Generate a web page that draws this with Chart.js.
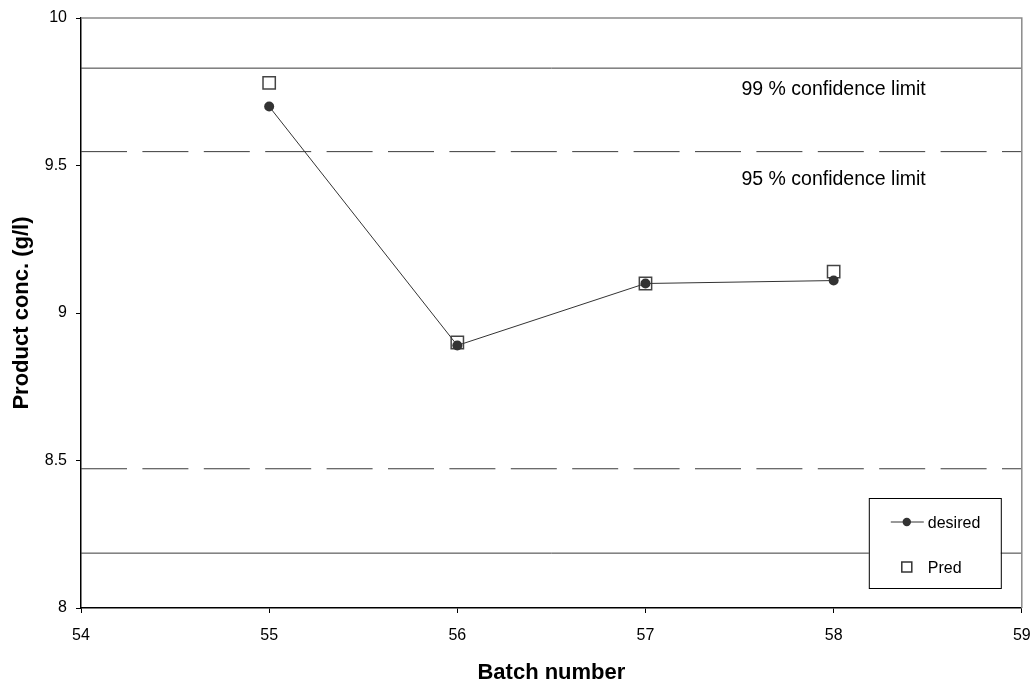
<!DOCTYPE html>
<html>
<head>
<meta charset="utf-8">
<script src="https://cdn.jsdelivr.net/npm/chart.js@4/dist/chart.umd.min.js"></script>
<style>
  html, body { margin: 0; padding: 0; background: #fff; }
  #wrap { width: 1032px; height: 684px; }
</style>
</head>
<body>
<div id="wrap"><canvas id="batchChart" width="1032" height="684"></canvas></div>
<script>
// batch numbers and measured values
const batches = [55, 56, 57, 58];
const desired = [9.70, 8.89, 9.10, 9.11];
const predicted = [9.78, 8.90, 9.10, 9.14];

// control limits
const limit99Upper = 9.83;
const limit95Upper = 9.547;
const limit95Lower = 8.472;
const limit99Lower = 8.186;
const xRange = [54, 59];

const yTicks = [8, 8.5, 9, 9.5, 10];
const xTicks = [54, 55, 56, 57, 58, 59];

const FONT = 'Arial, "Liberation Sans", sans-serif';
const INK = '#333';

function limitLine(value, dashed) {
    return {
        label: '',
        data: xRange.map(x => ({x: x, y: value})),
        borderColor: '#3a3a3a',
        borderWidth: 1,
        borderDash: dashed ? [46, 15.4] : [],
        pointRadius: 0,
        showLine: true,
        fill: false,
        order: 5
    };
}

// text labels, frame and legend box
const decorations = {
    id: 'decorations',
    afterDraw(chart) {
        const ctx = chart.ctx;
        const area = chart.chartArea;
        const xs = chart.scales.x;
        const ys = chart.scales.y;
        ctx.save();

        // top and right frame
        ctx.strokeStyle = '#8a8a8a';
        ctx.lineWidth = 1.5;
        ctx.beginPath();
        ctx.moveTo(area.left, area.top);
        ctx.lineTo(area.right, area.top);
        ctx.lineTo(area.right, area.bottom);
        ctx.stroke();

        // limit captions
        ctx.fillStyle = '#000';
        ctx.font = '19.5px ' + FONT;
        ctx.textAlign = 'left';
        ctx.textBaseline = 'alphabetic';
        ctx.fillText('99 % confidence limit', xs.getPixelForValue(57.51), ys.getPixelForValue(9.738));
        ctx.fillText('95 % confidence limit', xs.getPixelForValue(57.51), ys.getPixelForValue(9.435));

        // legend
        const bw = 132, bh = 90;
        const bx = area.right - 21 - bw;
        const by = area.bottom - 20 - bh;
        ctx.fillStyle = '#fff';
        ctx.fillRect(bx, by, bw, bh);
        ctx.strokeStyle = '#000';
        ctx.lineWidth = 1;
        ctx.strokeRect(bx + 0.5, by + 0.5, bw, bh);

        const mx = bx + 38;
        const y1 = by + 24;
        const y2 = by + 69;
        ctx.strokeStyle = INK;
        ctx.beginPath();
        ctx.moveTo(mx - 16, y1);
        ctx.lineTo(mx + 17, y1);
        ctx.stroke();
        ctx.fillStyle = INK;
        ctx.beginPath();
        ctx.arc(mx, y1, 4.2, 0, Math.PI * 2);
        ctx.fill();

        ctx.fillStyle = '#fff';
        ctx.fillRect(mx - 5, y2 - 5, 10, 10);
        ctx.strokeStyle = INK;
        ctx.lineWidth = 1.5;
        ctx.strokeRect(mx - 5, y2 - 5, 10, 10);

        ctx.fillStyle = '#000';
        ctx.font = '16px ' + FONT;
        ctx.textBaseline = 'middle';
        ctx.fillText('desired', mx + 21, y1 + 2);
        ctx.fillText('Pred', mx + 21, y2 + 2);
        ctx.restore();
    }
};

new Chart(document.getElementById('batchChart'), {
    type: 'scatter',
    plugins: [decorations],
    data: {
        datasets: [
            {
                label: 'desired',
                data: batches.map((b, i) => ({x: b, y: desired[i]})),
                showLine: true,
                borderColor: INK,
                borderWidth: 1,
                pointStyle: 'circle',
                pointRadius: 5,
                pointBackgroundColor: INK,
                pointBorderColor: INK,
                pointBorderWidth: 0,
                order: 0
            },
            {
                label: 'Pred',
                data: batches.map((b, i) => ({x: b, y: predicted[i]})),
                showLine: false,
                pointStyle: 'rect',
                pointRadius: 8.7,
                pointBackgroundColor: '#fff',
                pointBorderColor: '#444',
                pointBorderWidth: 1.5,
                order: 1
            },
            limitLine(limit99Upper, false),
            limitLine(limit95Upper, true),
            limitLine(limit95Lower, true),
            limitLine(limit99Lower, false)
        ]
    },
    options: {
        responsive: false,
        animation: false,
        layout: {
            padding: {top: 18, right: 10, left: 0, bottom: 0}
        },
        plugins: {
            legend: {display: false},
            tooltip: {enabled: false}
        },
        scales: {
            x: {
                type: 'linear',
                min: xRange[0],
                max: xRange[1],
                afterFit(scale) {
                    scale.height = 76;
                    scale.paddingLeft = 0;
                    scale.paddingRight = 0;
                },
                afterBuildTicks(scale) { scale.ticks = xTicks.map(v => ({value: v})); },
                grid: {display: true, drawOnChartArea: false, drawTicks: true, tickLength: 5, color: '#000'},
                border: {display: true, color: '#000', width: 1.5},
                ticks: {color: '#000', padding: 13, font: {family: FONT, size: 16}},
                title: {
                    display: true,
                    text: 'Batch number',
                    color: '#000',
                    padding: {top: 0, bottom: 0},
                    font: {family: FONT, size: 22, weight: 'bold', lineHeight: 1}
                }
            },
            y: {
                type: 'linear',
                min: 8,
                max: 10,
                afterFit(scale) {
                    scale.width = 81;
                    scale.paddingTop = 0;
                    scale.paddingBottom = 0;
                },
                afterBuildTicks(scale) { scale.ticks = yTicks.map(v => ({value: v})); },
                grid: {display: true, drawOnChartArea: false, drawTicks: true, tickLength: 5, color: '#000'},
                border: {display: true, color: '#000', width: 1.5},
                ticks: {
                    color: '#000',
                    padding: 9,
                    font: {family: FONT, size: 16},
                    callback: v => String(v)
                },
                title: {
                    display: true,
                    text: 'Product conc. (g/l)',
                    color: '#000',
                    padding: {top: 9, bottom: 0},
                    font: {family: FONT, size: 22, weight: 'bold', lineHeight: 1.2}
                }
            }
        }
    }
});
</script>
</body>
</html>
